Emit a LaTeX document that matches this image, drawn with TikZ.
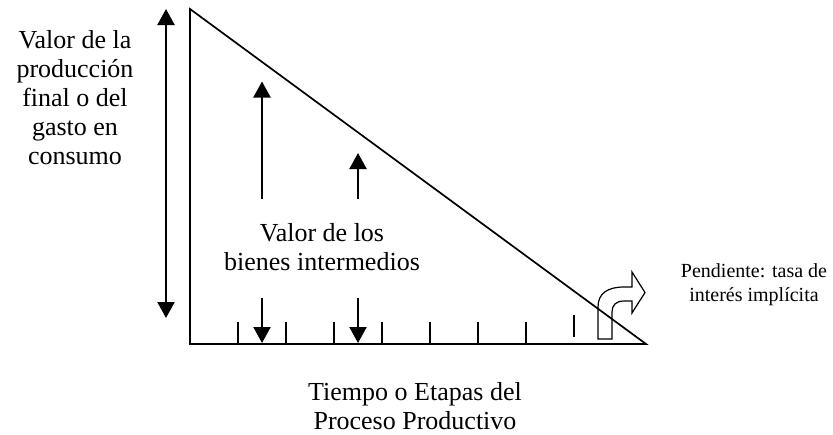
\documentclass[tikz,border=0pt]{standalone}
\usepackage{fontspec}
\setmainfont{Liberation Serif}
\usetikzlibrary{arrows.meta, calc}

\begin{document}
\begin{tikzpicture}[x=0.5pt, y=-0.5pt,
                    flecha/.style={line width=1.1pt, -{Triangle[length=8pt, width=8.5pt]}},
                    doble/.style={line width=1.1pt, {Triangle[length=8pt, width=8.5pt]}-{Triangle[length=8pt, width=8.5pt]}},
                    marca/.style={line width=0.85pt},
                    texto/.style={align=center, inner sep=0pt, font=\fontsize{13}{14.5}\selectfont}
                ]
                \useasboundingbox (0,0) rectangle (833,434);
                % triangulo
                \coordinate (A) at (190,9);
                \coordinate (B) at (190,344);
                \coordinate (C) at (646,344);
                \draw[marca, line join=miter] (A) -- (B) -- (C) -- cycle;

                % marcas del tiempo
                \foreach \k in {1,...,7}
                    \draw[marca] ($(B)+(48*\k,0)$) -- ($(B)+(48*\k,-22.5)$);
                \draw[marca] (574,315) -- (574,337);

                % flechas
                \coordinate (izqA) at (166,9);
                \coordinate (izqB) at (166,318);
                \draw[doble] (izqA) -- (izqB);
                \coordinate (s1) at (262,199);
                \coordinate (t1) at (262,81.5);
                \coordinate (s2) at (358,199);
                \coordinate (t2) at (358,153);
                \draw[flecha] (s1) -- (t1);
                \draw[flecha] (s2) -- (t2);
                \coordinate (d1) at (262,298);
                \coordinate (e1) at (262,343);
                \coordinate (d2) at (358,298);
                \coordinate (e2) at (358,343);
                \draw[flecha] (d1) -- (e1);
                \draw[flecha] (d2) -- (e2);

                % flecha curva
                \draw[line width=0.6pt, line join=miter] (598,339) -- (598,307)
                    .. controls (598,293) and (608,287) .. (624,287) -- (632,287)
                    -- (632,272) -- (645,292.5) -- (632,313) -- (632,301) -- (624,301)
                    .. controls (616,301) and (612,305) .. (612,312) -- (612,339) -- cycle;

                % textos
                \node[texto] (final) at (75,98) {Valor de la\\producción\\final o del\\gasto en\\consumo};
                \node[texto] (inter) at (322,247) {Valor de los\\bienes intermedios};
                \node[texto] (tiempo) at (415,406) {Tiempo o Etapas del\\Proceso Productivo};
                \node[align=center, inner sep=0pt, font=\fontsize{10}{12}\selectfont] (pend) at (754,285) {Pendiente: tasa de\\interés implícita};
            \end{tikzpicture}
\end{document}
